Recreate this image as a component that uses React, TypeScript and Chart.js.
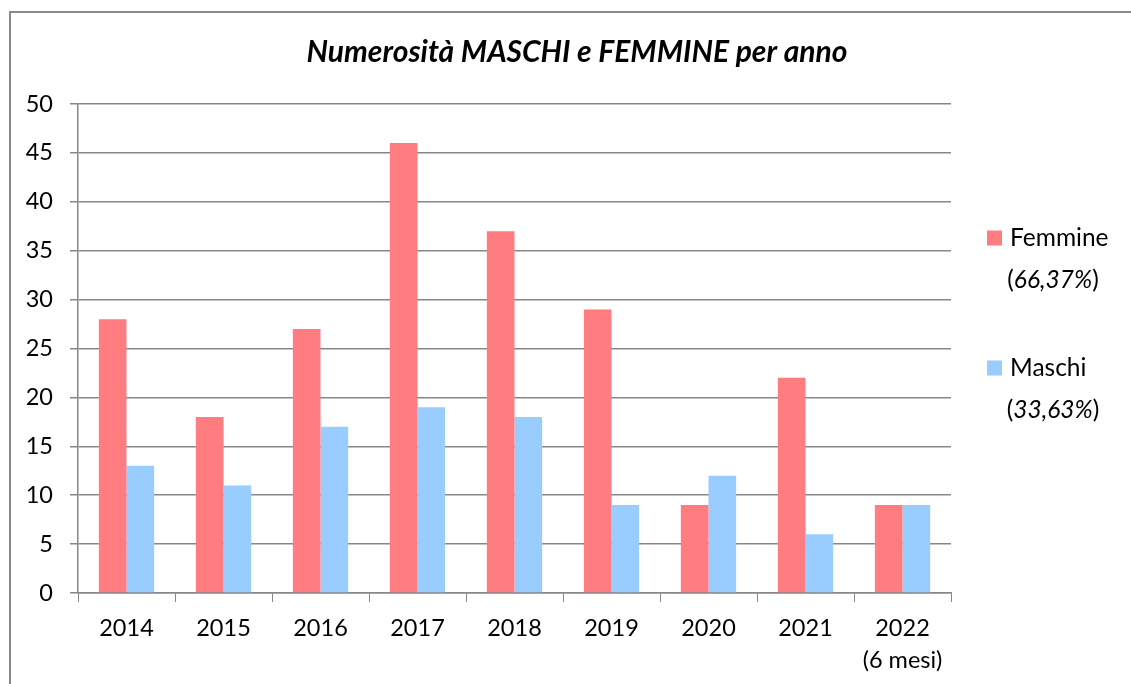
import React, { useEffect, useRef } from "react";
import { Chart, registerables } from "chart.js";

Chart.register(...registerables);

const categories: (string | string[])[] = [
  "2014", "2015", "2016", "2017", "2018", "2019", "2020", "2021", ["2022", "(6 mesi)"],
];
const femmine = [28, 18, 27, 46, 37, 29, 9, 22, 9];
const maschi = [13, 11, 17, 19, 18, 9, 12, 6, 9];
const seriesNames = ["Femmine", "Maschi"];
const seriesPercents = ["66,37%", "33,63%"];
const seriesColors = ["#FF7C80", "#99CCFF"];
const titleText = "Numerosità MASCHI e FEMMINE per anno";
const yMin = 0;
const yMax = 50;
const yStep = 5;

const FONT = "Lato, 'Open Sans', sans-serif";
const GRID = "#878787";

export default function App() {
  const ref = useRef<HTMLCanvasElement | null>(null);

  useEffect(() => {
    if (!ref.current) return;

    const decor = {
      id: "decor",
      beforeDraw(chart: any) {
        const ctx = chart.ctx;
        ctx.save();
        ctx.fillStyle = "#ffffff";
        ctx.fillRect(0, 0, chart.width, chart.height);
        ctx.strokeStyle = "#8a8a8a";
        ctx.lineWidth = 2;
        ctx.beginPath();
        ctx.moveTo(10, chart.height + 5);
        ctx.lineTo(10, 12);
        ctx.lineTo(chart.width + 5, 12);
        ctx.stroke();
        ctx.restore();
      },
      afterDraw(chart: any) {
        const ctx = chart.ctx;
        ctx.save();
        // title
        ctx.fillStyle = "#000";
        ctx.font = `italic bold 30px ${FONT}`;
        ctx.textAlign = "center";
        ctx.textBaseline = "middle";
        ctx.fillText(titleText, 577, 52);
        // legend
        const ys = [238, 368];
        const size = 24.5;
        seriesNames.forEach((name, i) => {
          const y = ys[i];
          ctx.fillStyle = seriesColors[i];
          ctx.fillRect(987, y - 7.5, 15, 15);
          ctx.fillStyle = "#000";
          ctx.textAlign = "left";
          ctx.textBaseline = "middle";
          ctx.font = `${size}px ${FONT}`;
          ctx.fillText(name, 1010, y);
          const y2 = y + 42;
          const normal = `${size}px ${FONT}`;
          const ital = `italic ${size}px ${FONT}`;
          ctx.font = normal;
          const w1 = ctx.measureText("(").width;
          ctx.font = ital;
          const w2 = ctx.measureText(seriesPercents[i]).width;
          ctx.font = normal;
          const w3 = ctx.measureText(")").width;
          const total = w1 + w2 + w3;
          const cx = 1053;
          let x = cx - total / 2;
          ctx.font = normal;
          ctx.fillText("(", x, y2);
          x += w1;
          ctx.font = ital;
          ctx.fillText(seriesPercents[i], x, y2);
          x += w2;
          ctx.font = normal;
          ctx.fillText(")", x, y2);
        });
        ctx.restore();
      },
    };

    const chart = new Chart(ref.current, {
      type: "bar",
      data: {
        labels: categories as any,
        datasets: [
          {
            label: seriesNames[0],
            data: femmine,
            backgroundColor: seriesColors[0],
            borderWidth: 0,
            categoryPercentage: 0.57,
            barPercentage: 1,
          },
          {
            label: seriesNames[1],
            data: maschi,
            backgroundColor: seriesColors[1],
            borderWidth: 0,
            categoryPercentage: 0.57,
            barPercentage: 1,
          },
        ],
      },
      options: {
        responsive: false,
        animation: false,
        layout: { padding: { top: 104, right: 180, left: 0, bottom: 0 } },
        plugins: {
          legend: { display: false },
          title: { display: false },
          tooltip: { enabled: false },
        },
        scales: {
          x: {
            grid: {
              display: true,
              drawOnChartArea: false,
              drawTicks: true,
              tickLength: 9,
              color: GRID,
              offset: true,
            },
            border: { display: true, color: GRID, width: 1.5 },
            ticks: {
              color: "#000",
              padding: 10,
              maxRotation: 0,
              autoSkip: false,
              font: { family: FONT, size: 23.5, lineHeight: 32 / 23.5 },
            },
            afterFit(scale: any) {
              scale.height = 91;
            },
          },
          y: {
            min: yMin,
            max: yMax,
            grid: {
              color: GRID,
              lineWidth: 1.5,
              drawTicks: true,
              tickLength: 8,
            },
            border: { display: true, color: GRID, width: 1.5 },
            ticks: {
              stepSize: yStep,
              color: "#000",
              padding: 17,
              font: { family: FONT, size: 23.5 },
            },
            afterFit(scale: any) {
              scale.width = 78;
            },
          },
        },
      },
      plugins: [decor],
    });

    return () => chart.destroy();
  }, []);

  return (
    <div style={{ position: "fixed", left: 0, top: 0, width: 1131, height: 684 }}>
      <canvas ref={ref} width={1131} height={684} style={{ display: "block" }} />
    </div>
  );
}
